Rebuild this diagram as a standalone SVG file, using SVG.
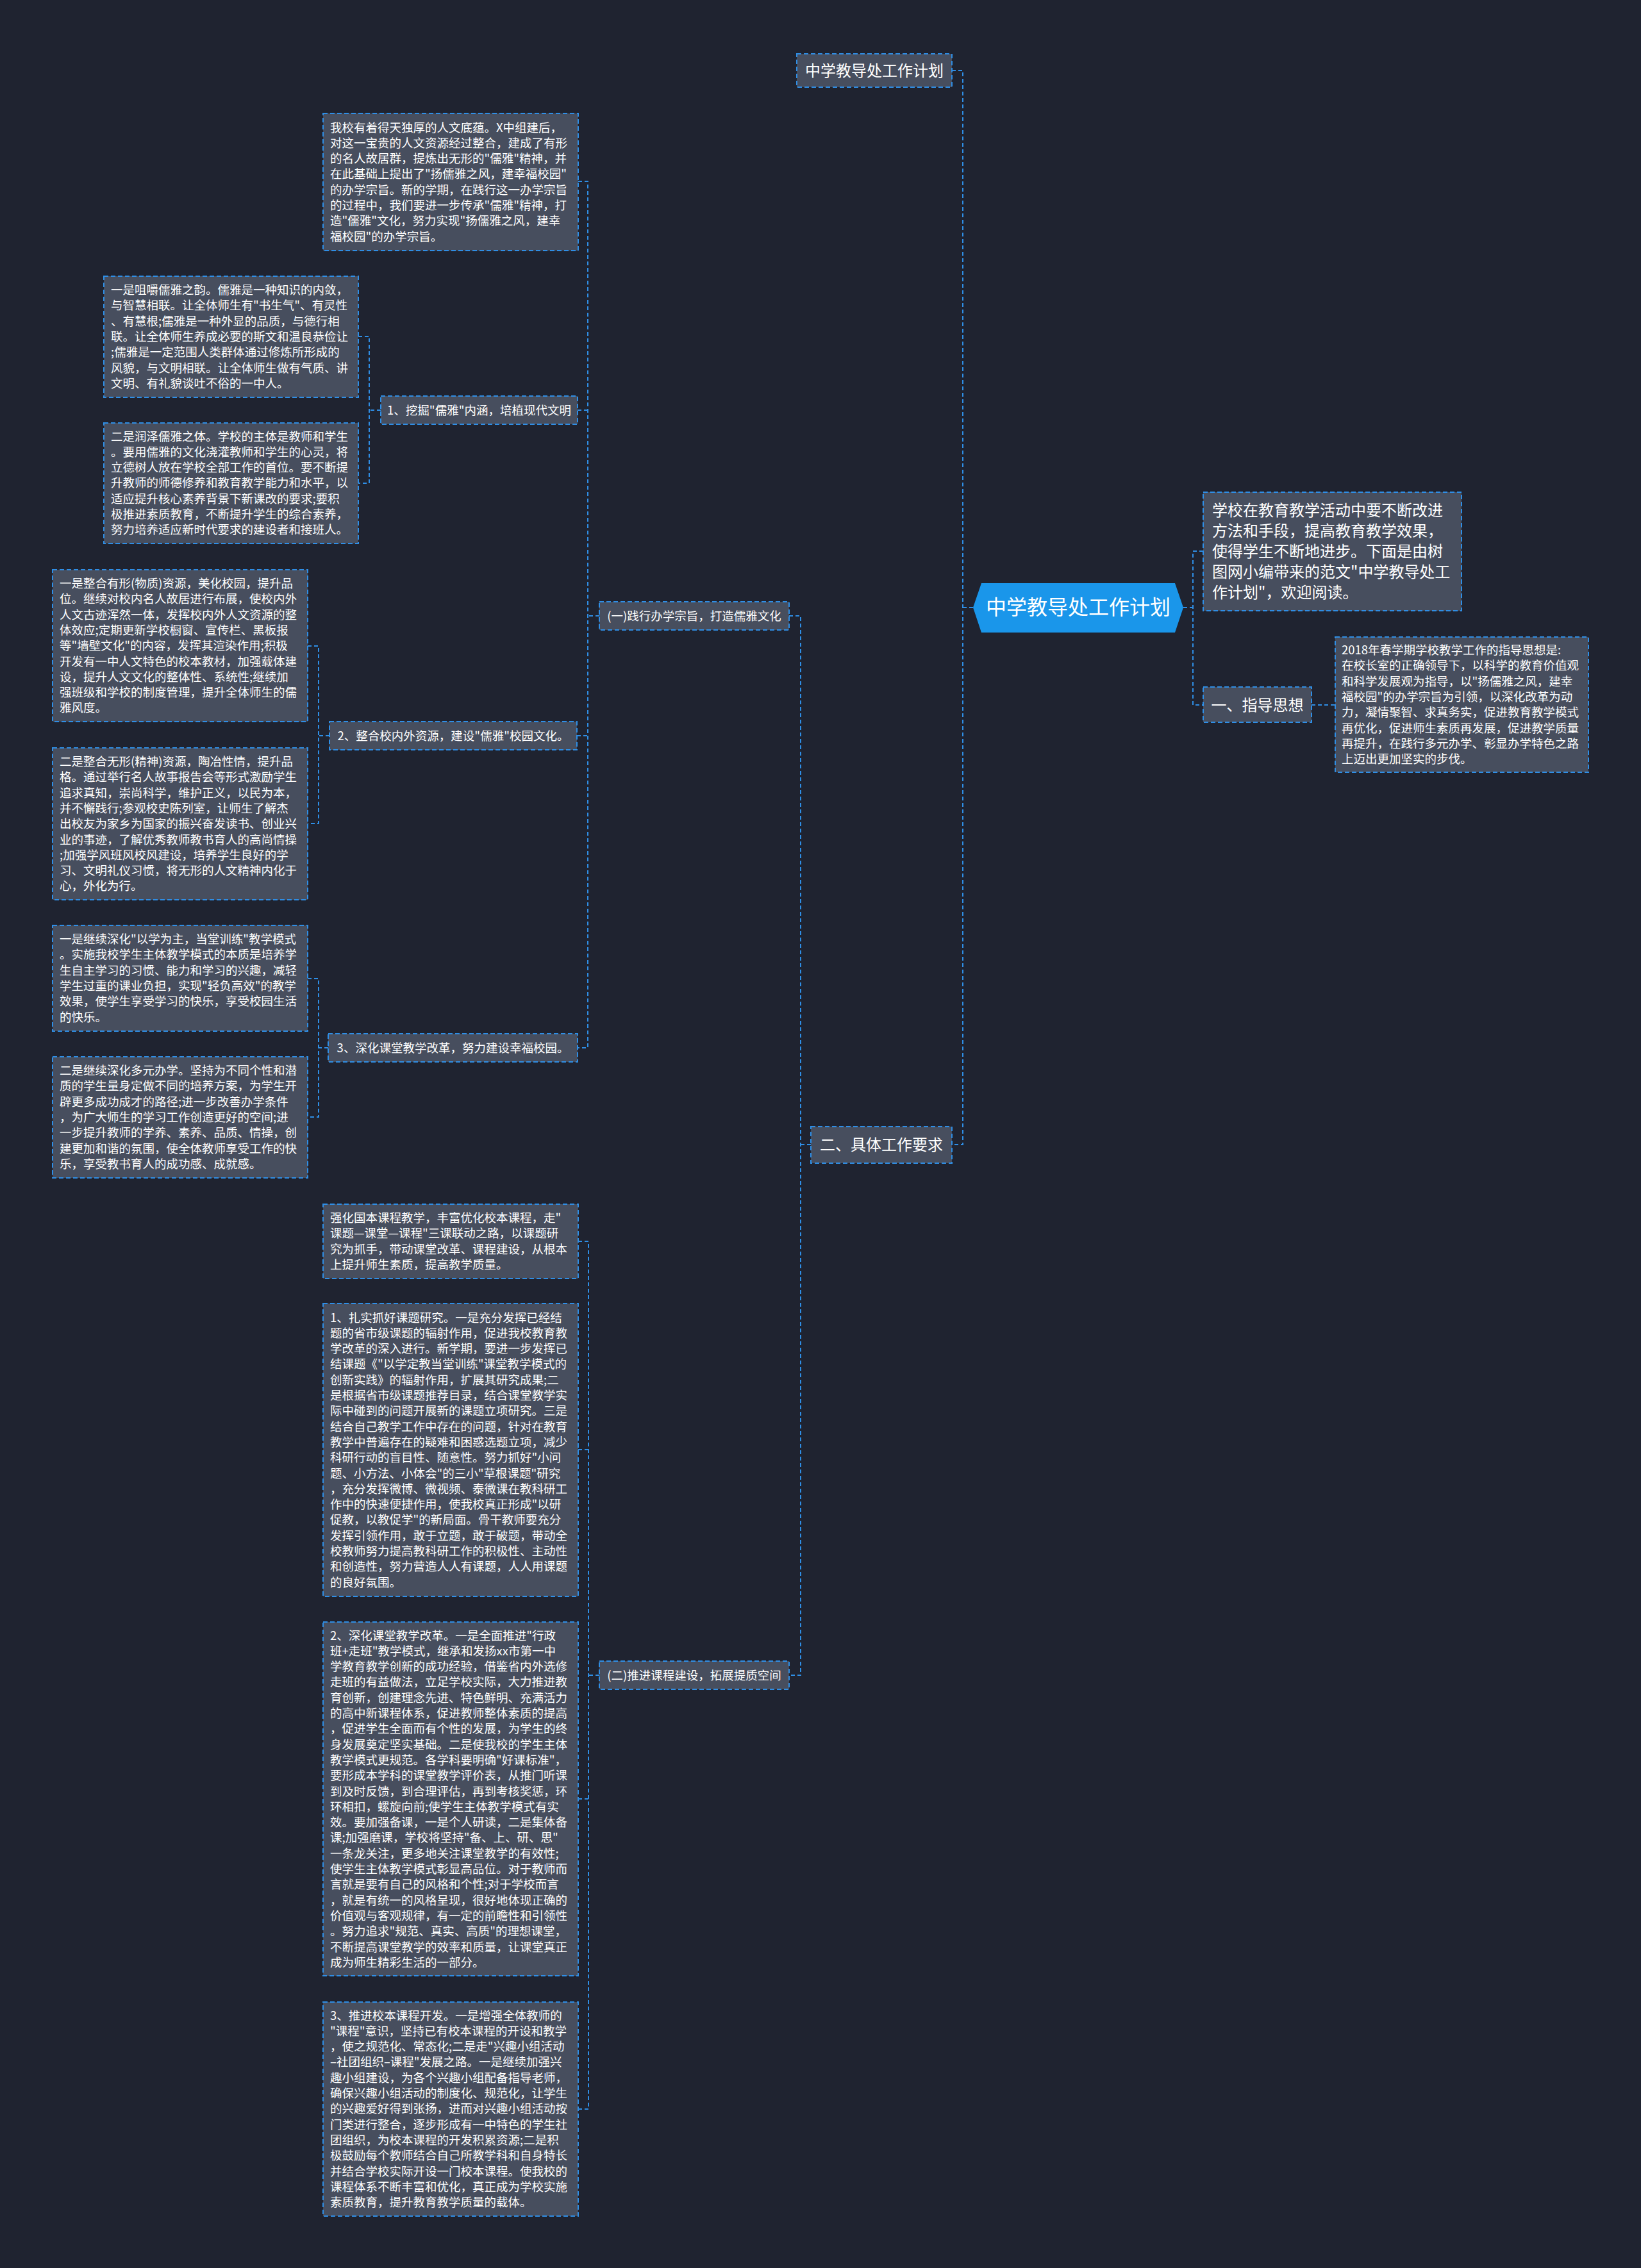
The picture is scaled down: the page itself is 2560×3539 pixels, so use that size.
<svg xmlns="http://www.w3.org/2000/svg" width="2560" height="3539" viewBox="0 0 2560 3539">
<style>
.bg{fill:#1f2330}
.box{fill:#474e5e;stroke:#2f8ee5;stroke-width:2;stroke-dasharray:7 4}
.t{font-family:"Noto Sans CJK SC","Noto Sans",sans-serif;fill:#ffffff;font-size:18.5px}
.m{font-family:"Noto Sans CJK SC","Noto Sans",sans-serif;fill:#ffffff;font-size:18.5px;text-anchor:middle}
.l{font-family:"Noto Sans CJK SC","Noto Sans",sans-serif;fill:#ffffff;font-size:24px}
.lm{font-family:"Noto Sans CJK SC","Noto Sans",sans-serif;fill:#ffffff;font-size:24px;text-anchor:middle}
.conn{fill:none;stroke:#2f8ee5;stroke-width:2;stroke-dasharray:6 4}
</style>
<rect class="bg" x="0" y="0" width="2560" height="3539"/>

<g id="connectors">
<path class="conn" d="M1485,110 H1502 V1786 H1485 M1502,948 H1518"/>
<path class="conn" d="M1846,948 H1861 M1877,860 H1861 V1100 H1877"/>
<path class="conn" d="M2046,1100 H2083"/>
<path class="conn" d="M1265,1786 H1249 M1231,961 H1249 V2614 H1231"/>
<path class="conn" d="M935,961 H917 M902,283 H917 V1635 H901 M901,640 H917 M900,1148 H917"/>
<path class="conn" d="M594,640 H576 M559,525 H576 V754 H559"/>
<path class="conn" d="M514,1148 H497 M480,1008 H497 V1285 H480"/>
<path class="conn" d="M512,1635 H497 M480,1527 H497 V1743 H480"/>
<path class="conn" d="M935,2614 H918 M902,1937 H918 V3291 H902 M902,2262 H918 M902,2807 H918"/>
</g>

<g id="root">
<polygon points="1531,910 1833,910 1846,948 1833,987 1531,987 1518,948" fill="#1a96ea"/>
<text x="1682" y="959" font-family="'Noto Sans CJK SC','Noto Sans',sans-serif" font-size="32" fill="#ffffff" text-anchor="middle">中学教导处工作计划</text>
</g>

<g id="top-title">
<rect class="box" x="1243" y="84" width="242" height="52"/>
<text class="lm" x="1364" y="118.5">中学教导处工作计划</text>
</g>

<g id="intro">
<rect class="box" x="1877" y="768" width="403" height="185"/>
<text class="l" y="805"><tspan x="1891">学校在教育教学活动中要不断改进</tspan><tspan x="1891" dy="32">方法和手段，提高教育教学效果，</tspan><tspan x="1891" dy="32">使得学生不断地进步。下面是由树</tspan><tspan x="1891" dy="32">图网小编带来的范文"中学教导处工</tspan><tspan x="1891" dy="32">作计划"，欢迎阅读。</tspan></text>
</g>

<g id="guide">
<rect class="box" x="1877" y="1072" width="169" height="55"/>
<text class="lm" x="1961.5" y="1108.5">一、指导思想</text>
</g>

<g id="guide-text">
<rect class="box" x="2083" y="994" width="395" height="211"/>
<text class="t" y="1021"><tspan x="2093">2018年春学期学校教学工作的指导思想是:</tspan><tspan x="2093" dy="24.3">在校长室的正确领导下，以科学的教育价值观</tspan><tspan x="2093" dy="24.3">和科学发展观为指导，以"扬儒雅之风，建幸</tspan><tspan x="2093" dy="24.3">福校园"的办学宗旨为引领，以深化改革为动</tspan><tspan x="2093" dy="24.3">力，凝情聚智、求真务实，促进教育教学模式</tspan><tspan x="2093" dy="24.3">再优化，促进师生素质再发展，促进教学质量</tspan><tspan x="2093" dy="24.3">再提升，在践行多元办学、彰显办学特色之路</tspan><tspan x="2093" dy="24.3">上迈出更加坚实的步伐。</tspan></text>
</g>

<g id="req">
<rect class="box" x="1265" y="1758" width="220" height="57"/>
<text class="lm" x="1375" y="1794.5">二、具体工作要求</text>
</g>

<g id="sec1">
<rect class="box" x="935" y="939" width="296" height="44"/>
<text class="m" x="1083" y="967.5">(一)践行办学宗旨，打造儒雅文化</text>
</g>

<g id="sec2">
<rect class="box" x="935" y="2592" width="296" height="44"/>
<text class="m" x="1083" y="2620.5">(二)推进课程建设，拓展提质空间</text>
</g>

<g id="blockA">
<rect class="box" x="504" y="177" width="398" height="214"/>
<text class="t" y="205.5"><tspan x="515">我校有着得天独厚的人文底蕴。X中组建后，</tspan><tspan x="515" dy="24.3">对这一宝贵的人文资源经过整合，建成了有形</tspan><tspan x="515" dy="24.3">的名人故居群，提炼出无形的"儒雅"精神，并</tspan><tspan x="515" dy="24.3">在此基础上提出了"扬儒雅之风，建幸福校园"</tspan><tspan x="515" dy="24.3">的办学宗旨。新的学期，在践行这一办学宗旨</tspan><tspan x="515" dy="24.3">的过程中，我们要进一步传承"儒雅"精神，打</tspan><tspan x="515" dy="24.3">造"儒雅"文化，努力实现"扬儒雅之风，建幸</tspan><tspan x="515" dy="24.3">福校园"的办学宗旨。</tspan></text>
</g>

<g id="label1">
<rect class="box" x="594" y="618" width="307" height="44"/>
<text class="m" x="747.5" y="646.5">1、挖掘"儒雅"内涵，培植现代文明</text>
</g>

<g id="blockB">
<rect class="box" x="162" y="431" width="397" height="189"/>
<text class="t" y="459"><tspan x="173">一是咀嚼儒雅之韵。儒雅是一种知识的内敛，</tspan><tspan x="173" dy="24.3">与智慧相联。让全体师生有"书生气"、有灵性</tspan><tspan x="173" dy="24.3">、有慧根;儒雅是一种外显的品质，与德行相</tspan><tspan x="173" dy="24.3">联。让全体师生养成必要的斯文和温良恭俭让</tspan><tspan x="173" dy="24.3">;儒雅是一定范围人类群体通过修炼所形成的</tspan><tspan x="173" dy="24.3">风貌，与文明相联。让全体师生做有气质、讲</tspan><tspan x="173" dy="24.3">文明、有礼貌谈吐不俗的一中人。</tspan></text>
</g>

<g id="blockC">
<rect class="box" x="162" y="660" width="397" height="188"/>
<text class="t" y="687.5"><tspan x="173">二是润泽儒雅之体。学校的主体是教师和学生</tspan><tspan x="173" dy="24.3">。要用儒雅的文化浇灌教师和学生的心灵，将</tspan><tspan x="173" dy="24.3">立德树人放在学校全部工作的首位。要不断提</tspan><tspan x="173" dy="24.3">升教师的师德修养和教育教学能力和水平，以</tspan><tspan x="173" dy="24.3">适应提升核心素养背景下新课改的要求;要积</tspan><tspan x="173" dy="24.3">极推进素质教育，不断提升学生的综合素养，</tspan><tspan x="173" dy="24.3">努力培养适应新时代要求的建设者和接班人。</tspan></text>
</g>

<g id="label2">
<rect class="box" x="514" y="1126" width="386" height="44"/>
<text class="m" x="707" y="1154.5">2、整合校内外资源，建设"儒雅"校园文化。</text>
</g>

<g id="blockD">
<rect class="box" x="82" y="889" width="398" height="237"/>
<text class="t" y="917"><tspan x="93">一是整合有形(物质)资源，美化校园，提升品</tspan><tspan x="93" dy="24.3">位。继续对校内名人故居进行布展，使校内外</tspan><tspan x="93" dy="24.3">人文古迹浑然一体，发挥校内外人文资源的整</tspan><tspan x="93" dy="24.3">体效应;定期更新学校橱窗、宣传栏、黑板报</tspan><tspan x="93" dy="24.3">等"墙壁文化"的内容，发挥其渲染作用;积极</tspan><tspan x="93" dy="24.3">开发有一中人文特色的校本教材，加强载体建</tspan><tspan x="93" dy="24.3">设，提升人文文化的整体性、系统性;继续加</tspan><tspan x="93" dy="24.3">强班级和学校的制度管理，提升全体师生的儒</tspan><tspan x="93" dy="24.3">雅风度。</tspan></text>
</g>

<g id="blockE">
<rect class="box" x="82" y="1167" width="398" height="237"/>
<text class="t" y="1195"><tspan x="93">二是整合无形(精神)资源，陶冶性情，提升品</tspan><tspan x="93" dy="24.3">格。通过举行名人故事报告会等形式激励学生</tspan><tspan x="93" dy="24.3">追求真知，崇尚科学，维护正义，以民为本，</tspan><tspan x="93" dy="24.3">并不懈践行;参观校史陈列室，让师生了解杰</tspan><tspan x="93" dy="24.3">出校友为家乡为国家的振兴奋发读书、创业兴</tspan><tspan x="93" dy="24.3">业的事迹，了解优秀教师教书育人的高尚情操</tspan><tspan x="93" dy="24.3">;加强学风班风校风建设，培养学生良好的学</tspan><tspan x="93" dy="24.3">习、文明礼仪习惯，将无形的人文精神内化于</tspan><tspan x="93" dy="24.3">心，外化为行。</tspan></text>
</g>

<g id="label3">
<rect class="box" x="512" y="1613" width="389" height="44"/>
<text class="m" x="706.5" y="1641.5">3、深化课堂教学改革，努力建设幸福校园。</text>
</g>

<g id="blockF">
<rect class="box" x="82" y="1444" width="398" height="165"/>
<text class="t" y="1472"><tspan x="93">一是继续深化"以学为主，当堂训练"教学模式</tspan><tspan x="93" dy="24.3">。实施我校学生主体教学模式的本质是培养学</tspan><tspan x="93" dy="24.3">生自主学习的习惯、能力和学习的兴趣，减轻</tspan><tspan x="93" dy="24.3">学生过重的课业负担，实现"轻负高效"的教学</tspan><tspan x="93" dy="24.3">效果，使学生享受学习的快乐，享受校园生活</tspan><tspan x="93" dy="24.3">的快乐。</tspan></text>
</g>

<g id="blockG">
<rect class="box" x="82" y="1649" width="398" height="189"/>
<text class="t" y="1677"><tspan x="93">二是继续深化多元办学。坚持为不同个性和潜</tspan><tspan x="93" dy="24.3">质的学生量身定做不同的培养方案，为学生开</tspan><tspan x="93" dy="24.3">辟更多成功成才的路径;进一步改善办学条件</tspan><tspan x="93" dy="24.3">，为广大师生的学习工作创造更好的空间;进</tspan><tspan x="93" dy="24.3">一步提升教师的学养、素养、品质、情操，创</tspan><tspan x="93" dy="24.3">建更加和谐的氛围，使全体教师享受工作的快</tspan><tspan x="93" dy="24.3">乐，享受教书育人的成功感、成就感。</tspan></text>
</g>

<g id="blockH">
<rect class="box" x="504" y="1879" width="398" height="116"/>
<text class="t" y="1907"><tspan x="515">强化国本课程教学，丰富优化校本课程，走"</tspan><tspan x="515" dy="24.3">课题—课堂—课程"三课联动之路，以课题研</tspan><tspan x="515" dy="24.3">究为抓手，带动课堂改革、课程建设，从根本</tspan><tspan x="515" dy="24.3">上提升师生素质，提高教学质量。</tspan></text>
</g>

<g id="blockI1">
<rect class="box" x="504" y="2034" width="398" height="457"/>
<text class="t" y="2062.5"><tspan x="515">1、扎实抓好课题研究。一是充分发挥已经结</tspan><tspan x="515" dy="24.3">题的省市级课题的辐射作用，促进我校教育教</tspan><tspan x="515" dy="24.3">学改革的深入进行。新学期，要进一步发挥已</tspan><tspan x="515" dy="24.3">结课题《"以学定教当堂训练"课堂教学模式的</tspan><tspan x="515" dy="24.3">创新实践》的辐射作用，扩展其研究成果;二</tspan><tspan x="515" dy="24.3">是根据省市级课题推荐目录，结合课堂教学实</tspan><tspan x="515" dy="24.3">际中碰到的问题开展新的课题立项研究。三是</tspan><tspan x="515" dy="24.3">结合自己教学工作中存在的问题，针对在教育</tspan><tspan x="515" dy="24.3">教学中普遍存在的疑难和困惑选题立项，减少</tspan><tspan x="515" dy="24.3">科研行动的盲目性、随意性。努力抓好"小问</tspan><tspan x="515" dy="24.3">题、小方法、小体会"的三小"草根课题"研究</tspan><tspan x="515" dy="24.3">，充分发挥微博、微视频、泰微课在教科研工</tspan><tspan x="515" dy="24.3">作中的快速便捷作用，使我校真正形成"以研</tspan><tspan x="515" dy="24.3">促教，以教促学"的新局面。骨干教师要充分</tspan><tspan x="515" dy="24.3">发挥引领作用，敢于立题，敢于破题，带动全</tspan><tspan x="515" dy="24.3">校教师努力提高教科研工作的积极性、主动性</tspan><tspan x="515" dy="24.3">和创造性，努力营造人人有课题，人人用课题</tspan><tspan x="515" dy="24.3">的良好氛围。</tspan></text>
</g>

<g id="blockI2">
<rect class="box" x="504" y="2531" width="398" height="552"/>
<text class="t" y="2558.5"><tspan x="515">2、深化课堂教学改革。一是全面推进"行政</tspan><tspan x="515" dy="24.3">班+走班"教学模式，继承和发扬xx市第一中</tspan><tspan x="515" dy="24.3">学教育教学创新的成功经验，借鉴省内外选修</tspan><tspan x="515" dy="24.3">走班的有益做法，立足学校实际，大力推进教</tspan><tspan x="515" dy="24.3">育创新，创建理念先进、特色鲜明、充满活力</tspan><tspan x="515" dy="24.3">的高中新课程体系，促进教师整体素质的提高</tspan><tspan x="515" dy="24.3">，促进学生全面而有个性的发展，为学生的终</tspan><tspan x="515" dy="24.3">身发展奠定坚实基础。二是使我校的学生主体</tspan><tspan x="515" dy="24.3">教学模式更规范。各学科要明确"好课标准"，</tspan><tspan x="515" dy="24.3">要形成本学科的课堂教学评价表，从推门听课</tspan><tspan x="515" dy="24.3">到及时反馈，到合理评估，再到考核奖惩，环</tspan><tspan x="515" dy="24.3">环相扣，螺旋向前;使学生主体教学模式有实</tspan><tspan x="515" dy="24.3">效。要加强备课，一是个人研读，二是集体备</tspan><tspan x="515" dy="24.3">课;加强磨课，学校将坚持"备、上、研、思"</tspan><tspan x="515" dy="24.3">一条龙关注，更多地关注课堂教学的有效性;</tspan><tspan x="515" dy="24.3">使学生主体教学模式彰显高品位。对于教师而</tspan><tspan x="515" dy="24.3">言就是要有自己的风格和个性;对于学校而言</tspan><tspan x="515" dy="24.3">，就是有统一的风格呈现，很好地体现正确的</tspan><tspan x="515" dy="24.3">价值观与客观规律，有一定的前瞻性和引领性</tspan><tspan x="515" dy="24.3">。努力追求"规范、真实、高质"的理想课堂，</tspan><tspan x="515" dy="24.3">不断提高课堂教学的效率和质量，让课堂真正</tspan><tspan x="515" dy="24.3">成为师生精彩生活的一部分。</tspan></text>
</g>

<g id="blockK">
<rect class="box" x="504" y="3124" width="398" height="334"/>
<text class="t" y="3151.5"><tspan x="515">3、推进校本课程开发。一是增强全体教师的</tspan><tspan x="515" dy="24.3">"课程"意识，坚持已有校本课程的开设和教学</tspan><tspan x="515" dy="24.3">，使之规范化、常态化;二是走"兴趣小组活动</tspan><tspan x="515" dy="24.3">–社团组织–课程"发展之路。一是继续加强兴</tspan><tspan x="515" dy="24.3">趣小组建设，为各个兴趣小组配备指导老师，</tspan><tspan x="515" dy="24.3">确保兴趣小组活动的制度化、规范化，让学生</tspan><tspan x="515" dy="24.3">的兴趣爱好得到张扬，进而对兴趣小组活动按</tspan><tspan x="515" dy="24.3">门类进行整合，逐步形成有一中特色的学生社</tspan><tspan x="515" dy="24.3">团组织，为校本课程的开发积累资源;二是积</tspan><tspan x="515" dy="24.3">极鼓励每个教师结合自己所教学科和自身特长</tspan><tspan x="515" dy="24.3">并结合学校实际开设一门校本课程。使我校的</tspan><tspan x="515" dy="24.3">课程体系不断丰富和优化，真正成为学校实施</tspan><tspan x="515" dy="24.3">素质教育，提升教育教学质量的载体。</tspan></text>
</g>
</svg>
